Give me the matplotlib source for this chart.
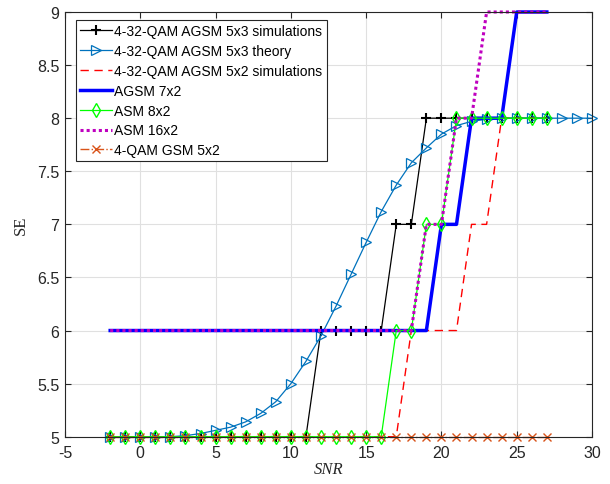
"""
SE vs SNR for the AGSM / ASM / GSM configurations.
"""

import numpy as np
import matplotlib
matplotlib.use("Agg")
import matplotlib.pyplot as plt

plt.rcParams["font.family"] = ["Liberation Sans", "DejaVu Sans"]
plt.rcParams["axes.unicode_minus"] = False

snr = np.arange(-2, 28)          # -2 .. 27
snr_theory = np.arange(-2, 31)   # -2 .. 30

se_agsm53_sim = [5] * 14 + [6] * 5 + [7] * 2 + [8] * 9
se_agsm53_theory = [5.0, 5.0, 5.0, 5.0, 5.0, 5.01, 5.03, 5.06, 5.09, 5.14,
                    5.22, 5.33, 5.50, 5.71, 5.95, 6.23, 6.53, 6.83, 7.12,
                    7.37, 7.58, 7.72, 7.85, 7.93, 7.97, 7.99, 8.0, 8.0, 8.0,
                    8.0, 8.0, 8.0, 8.0]
se_agsm52_sim = [5] * 20 + [6] * 4 + [7] * 2 + [8] * 4
se_agsm72 = [6] * 22 + [7] * 2 + [8] * 3 + [9] * 3
se_asm82 = [5] * 19 + [6] * 2 + [7] * 2 + [8] * 7
se_asm162 = [6] * 21 + [7] * 2 + [8] * 2 + [9] * 5
se_gsm52 = [5] * 30

labels = [
    "4-32-QAM AGSM 5x3 simulations",
    "4-32-QAM AGSM 5x3 theory",
    "4-32-QAM AGSM 5x2 simulations",
    "AGSM 7x2",
    "ASM 8x2",
    "ASM 16x2",
    "4-QAM GSM 5x2",
]

fig = plt.figure(figsize=(6.1, 4.85), dpi=100)
ax = fig.add_axes([0.1066, 0.0975, 0.8639, 0.8757])

common = dict(clip_on=False)
ax.plot(snr, se_agsm53_sim, color="k", lw=0.9, marker="+", ms=6.5, mew=1.5,
        label=labels[0], **common)
ax.plot(snr_theory, se_agsm53_theory, color=(0, 0.447, 0.741), lw=0.9,
        marker=">", ms=6.5, mfc="none", mew=0.9, label=labels[1], **common)
ax.plot(snr, se_agsm52_sim, color="r", lw=1.0, ls=(0, (6, 4)),
        label=labels[2], **common)
ax.plot(snr, se_agsm72, color="b", lw=2.5, label=labels[3], **common)
ax.plot(snr, se_asm82, color=(0, 1, 0), lw=0.9, marker="d", ms=7, mfc="none",
        mew=1.0, label=labels[4], **common)
ax.plot(snr, se_asm162, color="m", lw=2.2, ls=(0, (1, 1)), label=labels[5],
        **common)
ax.plot(snr, se_gsm52, color=(0.85, 0.325, 0.098), lw=1.0, ls="-.",
        marker="x", ms=5.5, mew=1.0, label=labels[6], **common)

ax.set_xlim(-5, 30)
ax.set_ylim(5, 9)
ax.set_xticks(np.arange(-5, 31, 5))
ax.set_yticks(np.arange(5, 9.01, 0.5))
ax.set_yticklabels(["5", "5.5", "6", "6.5", "7", "7.5", "8", "8.5", "9"])
ax.grid(True, color=(0.88, 0.88, 0.88), lw=0.8)
ax.set_axisbelow(True)
ax.tick_params(direction="in", top=True, right=True, labelsize=11.5,
               colors=(0.15, 0.15, 0.15), length=4)
ax.tick_params(axis="x", pad=6)
ax.tick_params(axis="y", pad=4)
for s in ax.spines.values():
    s.set_color((0.15, 0.15, 0.15))
    s.set_linewidth(0.8)

ax.set_xlabel("SNR", family="Liberation Serif", style="italic", fontsize=12,
              color=(0.15, 0.15, 0.15), labelpad=1)
ax.set_ylabel("SE", family="Liberation Serif", fontsize=12,
              color=(0.15, 0.15, 0.15), labelpad=6)

leg = ax.legend(loc="upper left", bbox_to_anchor=(0.02, 0.981), fontsize=10.0,
                handlelength=2.3, handletextpad=0.2, borderpad=0.3,
                labelspacing=0.42, borderaxespad=0, fancybox=False,
                framealpha=1)
leg.get_frame().set_edgecolor((0.15, 0.15, 0.15))
leg.get_frame().set_linewidth(0.8)

fig.savefig("out.png", dpi=100)
